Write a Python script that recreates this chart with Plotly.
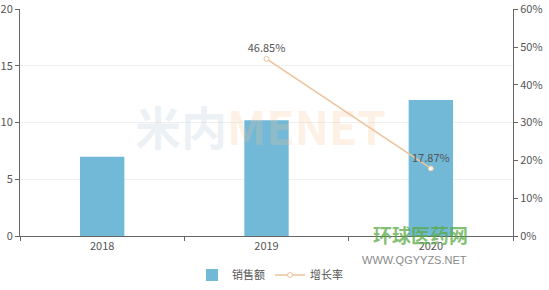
import plotly.graph_objects as go

years = ["2018", "2019", "2020"]
sales = [7.0, 10.2, 12.0]
growth_years = ["2019", "2020"]
growth = [0.4685, 0.1787]
growth_labels = ["46.85%", "17.87%"]

font_family = "Noto Sans CJK SC, Noto Sans, sans-serif"

# plot area (pixels) used to place watermarks
PL, PR, PT, PB = 20, 513, 9, 236


def px_x(x):
    return (x - PL) / (PR - PL)


def px_y(y):
    return (PB - y) / (PB - PT)


fig = go.Figure()
fig.add_trace(go.Bar(
    x=years, y=sales, name="销售额",
    marker=dict(color="#72b9d8", line=dict(width=0)),
    yaxis="y",
))
fig.add_trace(go.Scatter(
    x=growth_years, y=growth, name="增长率",
    mode="lines+markers+text",
    text=growth_labels, textposition="top center",
    textfont=dict(size=11, color="#555555"),
    line=dict(color="#ecc39a", width=1.5),
    marker=dict(size=5, color="white", line=dict(color="#ecc39a", width=1)),
    yaxis="y2",
))

# watermarks
fig.add_annotation(x=px_x(260), y=px_y(125), xref="paper", yref="paper",
                   text="<b><span style='color:rgba(170,195,215,0.22)'>米内</span>"
                        "<span style='color:rgba(250,190,140,0.22)'>MENET</span></b>",
                   showarrow=False,
                   font=dict(size=46, family=font_family))
fig.add_annotation(x=px_x(470), y=px_y(250), xref="paper", yref="paper",
                   text="<b>环球医药网</b>", showarrow=False,
                   font=dict(size=19, color="rgba(90,170,70,0.75)", family=font_family))
fig.add_annotation(x=px_x(469), y=px_y(268), xref="paper", yref="paper",
                   text="WWW.QGYYZS.NET", showarrow=False,
                   font=dict(size=11, color="#8a8a8a", family="Liberation Sans"))

fig.update_layout(
    width=549, height=290,
    margin=dict(l=PL, r=549 - PR, t=PT, b=290 - PB),
    paper_bgcolor="white", plot_bgcolor="white",
    font=dict(family=font_family, size=11, color="#555555"),
    bargap=0.73,
    showlegend=True,
    legend=dict(orientation="h", x=px_x(270), xanchor="center",
                yref="container", y=(290 - 275) / 290, yanchor="middle",
                font=dict(size=11, color="#555555")),
    xaxis=dict(type="category", range=[-0.5, 2.5], showline=True, linecolor="#666666",
               ticks="outside", tickson="boundaries", ticklen=4, tickcolor="#666666",
               showgrid=False, tickfont=dict(size=11, color="#555555"), automargin=False),
    yaxis=dict(range=[0, 20.02], tickvals=[0, 5, 10, 15, 20], showline=True, linecolor="#666666",
               ticks="outside", ticklen=4, tickcolor="#666666", automargin=False,
               gridcolor="#f0f0f0", zeroline=False, tickfont=dict(size=11, color="#555555")),
    yaxis2=dict(range=[0, 0.6006], tickvals=[0, 0.1, 0.2, 0.3, 0.4, 0.5, 0.6],
                tickformat=".0%", overlaying="y", side="right", automargin=False,
                showline=True, linecolor="#666666", ticks="outside", ticklen=4,
                tickcolor="#666666", showgrid=False, zeroline=False,
                tickfont=dict(size=11, color="#555555")),
)

fig.write_html("out.html")
